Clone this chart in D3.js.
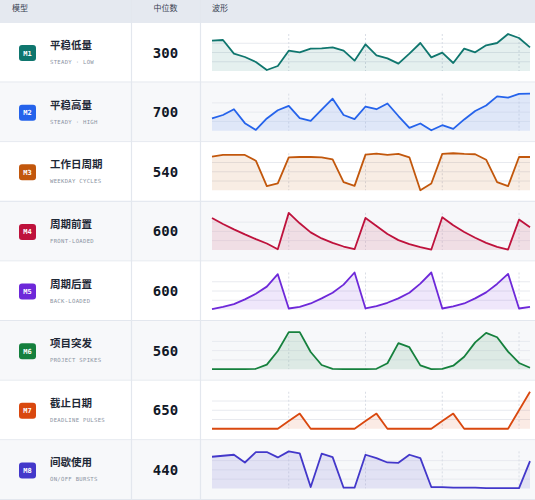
<!DOCTYPE html>
<html>
<head>
  <meta charset="utf-8">
  <title>波形</title>
  <script src="https://d3js.org/d3.v7.min.js"></script>
  <style>
    body { margin: 0; background: #fff; }
    svg { display: block; }
  </style>
</head>
<body>
<script>
    // Data
    var codes = ["M1", "M2", "M3", "M4", "M5", "M6", "M7", "M8"]
    var names = ["平稳低量", "平稳高量", "工作日周期", "周期前置", "周期后置", "项目突发", "截止日期", "间歇使用"]
    var subtitles = ["STEADY · LOW", "STEADY · HIGH", "WEEKDAY CYCLES", "FRONT-LOADED", "BACK-LOADED", "PROJECT SPIKES", "DEADLINE PULSES", "ON/OFF BURSTS"]
    var medians = [300, 700, 540, 600, 600, 560, 650, 440]
    var headers = ["模型", "中位数", "波形"]

    // 30 days per model
    var m1 = [91, 93, 52, 42, 27, 3, 15, 61, 56, 67, 68, 71, 61, 31, 80, 47, 38, 22, 52, 84, 41, 55, 24, 67, 56, 77, 84, 111, 99, 71]
    var m2 = [36, 46, 63, 22, 2, 36, 60, 73, 37, 29, 62, 94, 46, 34, 71, 63, 80, 43, 8, 21, 1, 16, 5, 33, 58, 74, 101, 97, 108, 109]
    var m3 = [99, 104, 104, 104, 87, 12, 20, 97, 98, 98, 97, 91, 24, 13, 105, 108, 104, 107, 97, 0, 20, 107, 109, 107, 106, 90, 24, 12, 98, 98]
    var m4 = [95, 77, 61, 46, 32, 19, 2, 110, 79, 52, 34, 21, 10, 2, 95, 71, 47, 29, 17, 8, 1, 97, 73, 53, 36, 21, 9, 1, 90, 67]
    var m5 = [1, 8, 16, 30, 47, 68, 105, 3, 8, 18, 33, 50, 74, 110, 3, 10, 20, 33, 50, 77, 110, 3, 9, 18, 33, 51, 76, 106, 3, 8]
    var m6 = [0, 0, 0, 0, 1, 13, 53, 108, 108, 50, 12, 1, 0, 0, 0, 1, 17, 76, 64, 11, 0, 1, 10, 36, 78, 106, 93, 51, 18, 4]
    var m7 = [0, 0, 0, 0, 0, 0, 0, 23, 45, 0, 0, 0, 0, 0, 23, 45, 0, 0, 0, 0, 0, 23, 45, 0, 0, 0, 0, 0, 55, 110]
    var m8 = [94, 97, 100, 77, 108, 108, 92, 110, 104, 4, 103, 93, 2, 2, 100, 90, 77, 76, 100, 90, 4, 4, 2, 2, 2, 1, 1, 1, 1, 81]
    var series = [m1, m2, m3, m4, m5, m6, m7, m8]
    var weekMarks = [7, 14, 21, 28]

    var palette = ["#0f766e", "#2563eb", "#c2570c", "#be123c", "#6d28d9", "#15803d", "#d9480f", "#4338ca"]

    var viz = {width: 535, height: 500, header: 23, col1: 131, col2: 200,
               sparkL: 212, sparkR: 530, sparkTop: 11, sparkH: 37}
    var rowH = (viz.height - viz.header) / codes.length
    var cjk = "'Noto Sans CJK SC', 'Noto Sans', sans-serif"
    var mono = "'DejaVu Sans Mono', 'Liberation Mono', monospace"

    var svg = d3.select("body").append("svg")
        .attr("width", viz.width).attr("height", viz.height)

    // Header
    svg.append("rect").attr("x", 0).attr("y", 0)
        .attr("width", viz.width).attr("height", viz.header).attr("fill", "#e5e9f0")
    svg.selectAll("text.head").data(headers).enter().append("text")
        .attr("class", "head")
        .attr("x", function(d, i) { return [12, (viz.col1 + viz.col2) / 2, viz.sparkL][i] })
        .attr("y", 11)
        .attr("text-anchor", function(d, i) { return i == 1 ? "middle" : "start" })
        .attr("font-family", cjk).attr("font-size", "8px").attr("fill", "#374151")
        .text(function(d) { return d })

    var x = d3.scaleLinear().domain([0, m1.length - 1]).range([viz.sparkL, viz.sparkR])

    // Rows
    var rows = svg.selectAll("g.row").data(codes).enter().append("g")
        .attr("class", "row")
        .attr("transform", function(d, i) { return "translate(0," + (viz.header + i * rowH) + ")" })

    rows.append("rect")
        .attr("x", 0).attr("y", 0).attr("width", viz.width).attr("height", rowH)
        .attr("fill", function(d, i) { return i % 2 ? "#f7f8fa" : "#ffffff" })
    rows.append("line")
        .attr("x1", 0).attr("x2", viz.width).attr("y1", rowH - 0.5).attr("y2", rowH - 0.5)
        .attr("stroke", "#e3e7ee").attr("stroke-width", 1.2)

    // Badge
    rows.append("rect")
        .attr("x", 19).attr("y", 22).attr("width", 17).attr("height", 16).attr("rx", 3)
        .attr("fill", function(d, i) { return palette[i] })
    rows.append("text")
        .attr("x", 27.5).attr("y", 32.5).attr("text-anchor", "middle")
        .attr("font-family", mono).attr("font-weight", "bold").attr("font-size", "7px")
        .attr("fill", "#fff")
        .text(function(d) { return d })

    // Name + subtitle
    rows.append("text")
        .attr("x", 50).attr("y", 26)
        .attr("font-family", cjk).attr("font-weight", "bold").attr("font-size", "10.5px")
        .attr("fill", "#1f2937")
        .text(function(d, i) { return names[i] })
    rows.append("text")
        .attr("x", 50).attr("y", 41)
        .attr("font-family", mono).attr("font-size", "5.6px").attr("fill", "#8b94a3")
        .attr("letter-spacing", "0.3px")
        .text(function(d, i) { return subtitles[i] })

    // Median
    rows.append("text")
        .attr("x", (viz.col1 + viz.col2) / 2).attr("y", 34.5).attr("text-anchor", "middle")
        .attr("font-family", mono).attr("font-weight", "bold").attr("font-size", "14px")
        .attr("fill", "#111827")
        .text(function(d, i) { return medians[i] })

    // Sparklines
    rows.each(function(d, i) {
        var g = d3.select(this)
        var data = series[i]
        var y = d3.scaleLinear().domain([0, d3.max(data)])
            .range([viz.sparkTop + viz.sparkH, viz.sparkTop])

        g.selectAll("line.grid").data([0.25, 0.5, 0.75]).enter().append("line")
            .attr("class", "grid")
            .attr("x1", viz.sparkL).attr("x2", viz.sparkR)
            .attr("y1", function(t) { return y(t * d3.max(data)) })
            .attr("y2", function(t) { return y(t * d3.max(data)) })
            .attr("stroke", "#e8eaef").attr("stroke-width", 1)

        g.selectAll("line.week").data(weekMarks).enter().append("line")
            .attr("class", "week")
            .attr("x1", function(w) { return x(w) }).attr("x2", function(w) { return x(w) })
            .attr("y1", viz.sparkTop).attr("y2", viz.sparkTop + viz.sparkH)
            .attr("stroke", "#d9dde5").attr("stroke-width", 1).attr("stroke-dasharray", "2,2")

        var area = d3.area()
            .x(function(v, k) { return x(k) })
            .y0(viz.sparkTop + viz.sparkH)
            .y1(function(v) { return y(v) })
        var line = d3.line()
            .x(function(v, k) { return x(k) })
            .y(function(v) { return y(v) })

        g.append("path").datum(data).attr("d", area)
            .attr("fill", palette[i]).attr("fill-opacity", 0.11)
        g.append("path").datum(data).attr("d", line)
            .attr("fill", "none").attr("stroke", palette[i])
            .attr("stroke-width", 1.8).attr("stroke-linejoin", "round")
    })

    // Column separators
    svg.selectAll("line.col").data([viz.col1, viz.col2]).enter().append("line")
        .attr("class", "col")
        .attr("x1", function(d) { return d + 0.5 }).attr("x2", function(d) { return d + 0.5 })
        .attr("y1", 0).attr("y2", viz.height)
        .attr("stroke", "#e3e7ee").attr("stroke-width", 1.2)
</script>
</body>
</html>
